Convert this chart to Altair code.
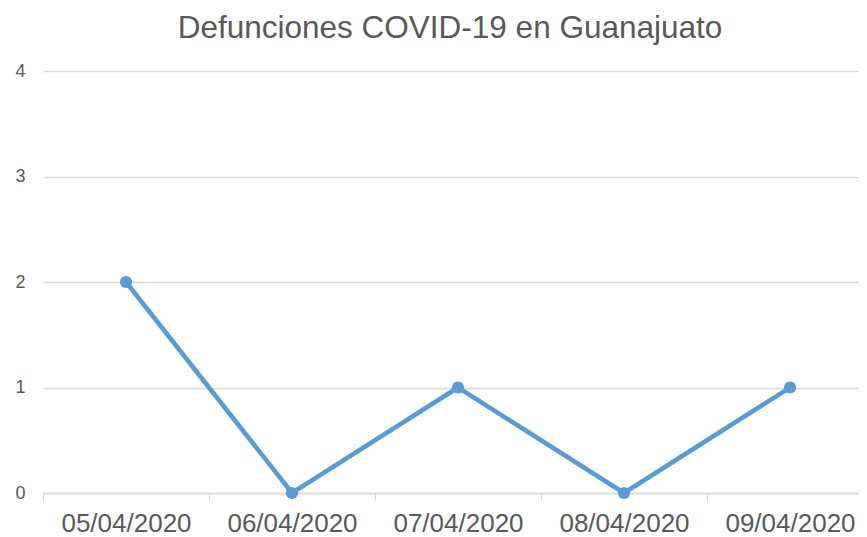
import altair as alt
import pandas as pd

fechas = ["05/04/2020", "06/04/2020", "07/04/2020", "08/04/2020", "09/04/2020"]
defunciones = [2, 0, 1, 0, 1]
titulo = ["Defunciones COVID-19 en Guanajuato"]

df = pd.DataFrame({"fecha": fechas, "defunciones": defunciones})
df_t = pd.DataFrame({"t": titulo})

FONT = "Liberation Sans"
GRAY = "#595959"
LINE = "#d9d9d9"
BLUE = "#5b9bd5"

x = alt.X(
    "fecha:N",
    sort=fechas,
    scale=alt.Scale(range=[0, 830], paddingInner=0, paddingOuter=0),
    axis=alt.Axis(
        title=None,
        labelAngle=0,
        labelFont=FONT,
        labelFontSize=26,
        labelColor=GRAY,
        labelPadding=10,
        tickSize=7,
        tickColor=LINE,
        tickBand="extent",
        domainColor=LINE,
        domainWidth=1.5,
        grid=False,
    ),
)
y = alt.Y(
    "defunciones:Q",
    scale=alt.Scale(domain=[0, 4], nice=False),
    axis=alt.Axis(
        title=None,
        values=[0, 1, 2, 3, 4],
        format="d",
        labelFont=FONT,
        labelFontSize=18,
        labelColor=GRAY,
        labelPadding=18,
        ticks=False,
        domain=False,
        grid=True,
        gridColor=LINE,
        gridWidth=1.5,
    ),
)

line = (
    alt.Chart(df)
    .mark_line(
        color=BLUE,
        strokeWidth=4.5,
        point=alt.OverlayMarkDef(filled=True, color=BLUE, size=150, opacity=1),
    )
    .encode(x=x, y=y)
)

title = (
    alt.Chart(df_t)
    .mark_text(
        font=FONT,
        fontSize=31.5,
        color=GRAY,
        align="center",
        baseline="alphabetic",
    )
    .encode(text="t:N", x=alt.value(407), y=alt.value(-33))
)

chart = (
    alt.layer(line, title)
    .properties(
        width=816,
        height=422,
        autosize=alt.AutoSizeParams(type="none"),
        padding={"left": 35, "top": 63, "right": 0, "bottom": 44},
    )
    .configure_view(stroke=None)
)

chart.save("out.html", embed_options={"renderer": "svg", "actions": False})
